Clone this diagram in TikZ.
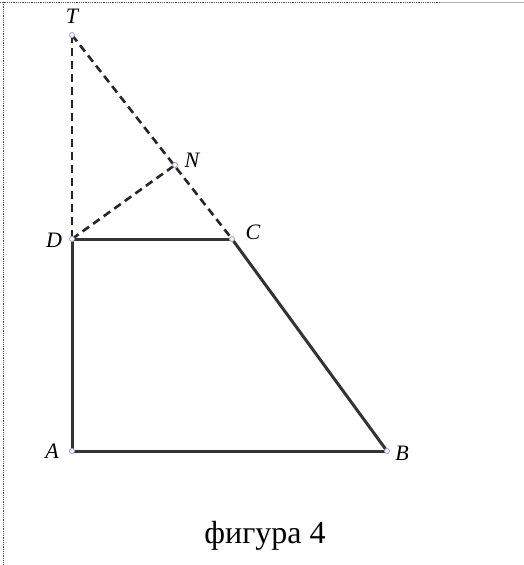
\documentclass[tikz,border=0pt]{standalone}
\usepackage{fontspec}
\setmainfont{Liberation Serif}
\begin{document}
\begin{tikzpicture}[x=1pt,y=-1pt,
  seg/.style={line width=3pt,draw=black!80},
  dseg/.style={line width=2.6pt,draw=black!85,dash pattern=on 8pt off 5pt},
  pt/.style={circle,inner sep=0pt,minimum size=5pt,draw=gray!60!blue!50,fill=white,line width=0.9pt},
  lbl/.style={font=\fontsize{22}{22}\selectfont\itshape,inner sep=0pt}]
\useasboundingbox (0,0) rectangle (524,565);
\fill[white] (0,0) rectangle (524,565);
\draw[densely dotted,black!70,line width=0.8pt] (0,2) -- (440,2);
\draw[gray!60,line width=0.8pt] (440,2) -- (524,2);
\draw[densely dotted,black!70,line width=0.8pt] (3,2) -- (3,565);
\coordinate (T) at (72,35);
\coordinate (D) at (72,239);
\coordinate (C) at (232,239);
\coordinate (N) at (175,165);
\coordinate (A) at (72,451);
\coordinate (B) at (387,451);
\draw[dseg] (T) -- (D);
\draw[dseg] (T) -- (C);
\draw[dseg] (D) -- (N);
\draw[seg] (D) -- (C);
\draw[seg] (C) -- (B);
\draw[seg] (A) -- (B);
\draw[seg] (A) -- (D);
\foreach \p in {T,D,C,N,A,B} \node[pt] at (\p) {};
\node[lbl] (lT) at (72,16) {T};
\node[lbl] (lN) at (192,160) {N};
\node[lbl] (lD) at (54,240) {D};
\node[lbl] (lC) at (253,232) {C};
\node[lbl] (lA) at (52,451) {A};
\node[lbl] (lB) at (402,453) {B};
\node[font=\fontsize{32}{32}\selectfont,inner sep=0pt] (cap) at (265,536) {фигура 4};
\end{tikzpicture}
\end{document}
